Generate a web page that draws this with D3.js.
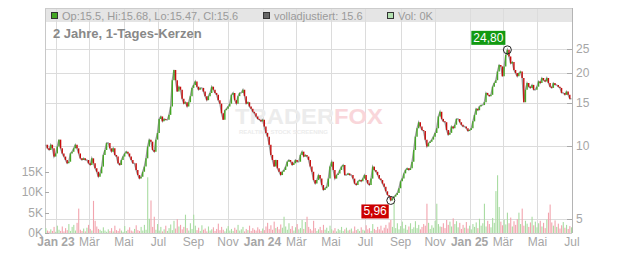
<!DOCTYPE html>
<html>
<head>
<meta charset="utf-8">
<script src="https://cdn.jsdelivr.net/npm/d3@7"></script>
<style>
  body { margin: 0; background: #fff; }
  svg { display: block; font-family: "Liberation Sans", Arial, sans-serif; }
</style>
</head>
<body>
<svg id="chart" width="632" height="253"></svg>
<script>
// Closing prices, sampled roughly every three calendar days (Dec 2022 - Jun 2025)
const closeSeg1 = [10.1, 9.76, 9.61, 10.1, 9.76, 9.03, 9.3, 9.94, 10.6, 9.76,
  9.3, 9.03, 8.74, 8.47, 8.6, 9.3, 9.46, 9.76, 10.1, 9.76,
  9.3, 8.88, 8.74, 8.88, 8.74, 8.74, 8.47, 8.34, 8.88, 8.47,
  8.08, 7.82, 7.46, 7.7, 8.21, 9.17, 9.61, 10.26, 10.26, 9.76,
  9.46, 9.76, 9.17, 9.03, 8.47, 8.34, 8.74, 9.03, 9.3, 9.46,
  9.3, 9.03, 8.74, 8.47, 8.47, 7.95, 7.58, 7.33, 7.46, 7.82,
  8.21, 8.88, 9.94, 10.6, 10.4, 9.61, 9.46, 10.6, 11.3, 12.9,
  13.2, 12.6, 12.9, 12.8, 12.8, 13.4, 14.5, 18.6, 20.5, 18.6,
  16.7, 17.5];
const closeSeg2 = [17.0, 15.6, 14.9, 15.1, 14.5, 15.1, 16.0, 17.3, 17.8, 18.4,
  17.5, 17.0, 17.3, 17.3, 16.7, 16.0, 15.4, 16.0, 16.5, 17.5,
  17.0, 16.5, 16.2, 15.4, 14.9, 13.6, 12.8, 14.0, 14.2, 14.5,
  14.9, 16.2, 16.5, 15.4, 14.9, 16.0, 16.5, 16.5, 17.0, 16.0,
  14.9, 15.1, 14.5, 14.2, 13.8, 13.6, 13.2, 12.9, 12.8, 12.6,
  12.8, 12.0, 11.3, 10.9, 10.1, 9.17, 8.74, 8.21, 8.74, 8.08,
  7.82, 7.58, 7.82, 7.95, 8.21, 8.6, 8.74, 8.6, 8.34, 8.47,
  8.74, 8.6, 8.6, 9.17, 9.46, 9.03, 9.17, 9.03, 8.74];
const closeSeg3 = [8.21, 7.82, 7.23, 6.99, 7.23, 7.58, 7.33, 6.9, 6.58, 6.69,
  6.79, 7.33, 8.21, 8.6, 7.95, 7.33, 7.58, 7.7, 7.95, 8.21,
  8.34, 7.58, 7.58, 7.7, 7.58, 7.58, 7.33, 6.99, 6.9, 7.14,
  7.23, 7.14, 7.33, 7.58, 7.23, 6.99, 6.9, 7.33, 8.21, 7.95,
  7.82, 7.58, 7.33, 7.23, 6.99, 6.79, 6.5, 6.28, 6.18, 5.96,
  6.08, 6.18, 6.28, 6.39, 6.69, 7.14, 7.33, 7.7, 7.95, 8.08,
  7.95, 8.08, 8.6, 9.61, 10.9, 11.8, 12.5, 12.0, 11.6, 11.5,
  10.6, 9.94, 10.26, 10.4, 10.6, 10.9, 11.3, 11.8, 13.2, 13.8];
const closeSeg4 = [12.9, 12.6, 12.5, 11.6, 11.1, 11.3, 12.0, 11.8, 12.2, 12.9,
  12.9, 12.5, 12.2, 12.0, 12.0, 11.8, 11.5, 11.6, 11.8, 12.6,
  13.4, 14.2, 14.0, 14.5, 14.7, 14.7, 15.1, 16.5, 16.2, 16.0,
  16.2, 17.5, 18.1, 18.6, 20.2, 21.5, 21.2, 19.3, 21.2, 23.6,
  24.8, 23.3, 21.8, 22.1, 20.5, 19.9, 19.3, 19.9, 20.2, 19.0,
  15.1, 17.0, 18.1, 17.5, 17.3, 17.8, 17.0, 17.0, 17.5, 18.4,
  18.1, 19.0, 18.6, 18.4, 19.0, 18.1, 17.5, 17.3, 18.1, 17.8,
  17.8, 17.5, 17.3, 16.5, 16.5, 16.2, 16.7, 16.2, 15.6, 15.6];

// Traded volume per sample, in thousands of shares
const volumeSeg1 = [1.2, 0.6, 0.4, 0.9, 0.5, 1.5, 0.3, 1.8, 0.8, 0.5,
  1.6, 0.4, 1.2, 0.7, 2.2, 0.5, 1.5, 2.0, 0.6, 2.5,
  6.0, 0.8, 0.5, 1.1, 0.4, 1.3, 2.0, 1.0, 0.6, 7.9,
  3.0, 1.6, 1.0, 0.8, 0.5, 1.4, 0.6, 0.3, 0.9, 0.5,
  1.2, 0.4, 1.8, 0.7, 0.5, 1.1, 0.6, 0.3, 1.7, 0.5,
  0.8, 1.4, 0.6, 0.4, 1.0, 1.9, 0.7, 0.5, 1.5, 0.6,
  2.0, 0.8, 13.7, 3.5, 8.0, 1.5, 4.0, 0.8, 2.2, 0.6,
  1.5, 0.4, 0.9, 1.8, 0.5, 1.2, 2.1, 0.7, 3.0, 1.1,
  3.4, 1.6];
const volumeSeg2 = [2.0, 0.9, 1.5, 4.5, 1.2, 0.6, 2.4, 1.0, 4.5, 1.8,
  0.7, 1.3, 0.5, 1.9, 0.8, 1.1, 0.4, 1.6, 0.6, 0.9,
  1.4, 0.5, 1.0, 2.3, 0.7, 1.5, 0.8, 0.4, 1.1, 1.7,
  0.6, 1.0, 0.5, 1.3, 0.8, 2.0, 0.6, 0.9, 1.5, 0.4,
  1.0, 0.7, 1.8, 0.5, 1.2, 0.8, 0.6, 1.4, 0.9, 0.5,
  1.1, 0.7, 1.6, 2.5, 1.0, 1.9, 0.8, 2.8, 1.2, 1.5,
  0.9, 2.1, 1.3, 4.0, 1.6, 0.8, 2.4, 1.0, 1.7, 0.6,
  1.4, 2.2, 0.9, 1.2, 3.2, 1.0, 2.7, 4.0, 1.5];
const volumeSeg3 = [1.0, 0.6, 3.0, 1.2, 0.5, 0.9, 1.5, 0.7, 2.0, 0.8,
  1.3, 0.5, 1.8, 0.9, 0.6, 1.2, 0.4, 1.0, 0.7, 1.5,
  0.5, 0.9, 1.3, 0.6, 0.8, 1.1, 0.4, 1.6, 0.7, 1.0,
  0.5, 1.4, 0.8, 0.6, 1.9, 0.9, 1.2, 0.5, 2.2, 1.0,
  0.7, 1.5, 0.9, 1.8, 0.6, 1.3, 2.0, 1.1, 2.6, 3.2,
  1.5, 7.5, 1.2, 2.4, 0.9, 1.7, 2.8, 1.1, 2.0, 0.8,
  1.6, 2.4, 1.0, 1.4, 2.9, 1.2, 2.0, 0.9, 1.5, 2.2,
  1.8, 7.2, 2.5, 1.0, 1.9, 1.3, 3.0, 7.2, 2.2, 1.6];
const volumeSeg4 = [1.5, 2.4, 1.2, 3.2, 2.0, 2.8, 1.6, 3.6, 2.2, 2.9,
  1.4, 2.5, 1.0, 2.0, 1.3, 2.7, 1.1, 1.8, 0.9, 2.2,
  1.5, 2.6, 1.2, 3.5, 1.8, 2.4, 7.2, 1.6, 3.0, 2.2,
  1.4, 3.7, 2.5, 10.3, 14.2, 6.4, 2.8, 1.9, 3.3, 2.1,
  5.0, 2.4, 3.8, 1.6, 2.9, 2.0, 3.4, 5.0, 2.2, 6.0,
  1.8, 3.0, 2.3, 1.5, 2.6, 4.0, 1.9, 2.8, 1.4, 2.4,
  3.0, 1.6, 2.5, 1.2, 3.3, 5.0, 7.0, 2.6, 1.8, 3.1,
  1.5, 2.3, 1.1, 1.9, 2.7, 1.3, 2.0, 1.0, 1.7, 1.4];

const firstDate = new Date(2022, 11, 14);
const lastDate = new Date(2025, 5, 30);

const priceTicks = [5, 10, 15, 20, 25];
const volumeTicks = [0, 5, 10, 15];
const monthTickDates = ["2023-01-01", "2023-03-01", "2023-05-01", "2023-07-01", "2023-09-01", "2023-11-01",
  "2024-01-01", "2024-03-01", "2024-05-01", "2024-07-01", "2024-09-01", "2024-11-01",
  "2025-01-01", "2025-03-01", "2025-05-01", "2025-07-01"];
const monthTickLabels = ["Jan 23", "Mär", "Mai", "Jul", "Sep", "Nov",
  "Jan 24", "Mär", "Mai", "Jul", "Sep", "Nov",
  "Jan 25", "Mär", "Mai", "Jul"];

const titleText = "2 Jahre, 1-Tages-Kerzen";
const legendTexts = ["Op:15.5, Hi:15.68, Lo:15.47, Cl:15.6", "volladjustiert: 15.6", "Vol: 0K"];

// ---- assemble series ----
const closes = [].concat(closeSeg1, closeSeg2, closeSeg3, closeSeg4);
const volumes = [].concat(volumeSeg1, volumeSeg2, volumeSeg3, volumeSeg4);
const n = closes.length;
const step = (lastDate - firstDate) / (n - 1);
const series = closes.map((c, i) => ({
  date: new Date(+firstDate + i * step),
  close: c,
  prev: i > 0 ? closes[i - 1] : c,
  volume: volumes[i]
}));

// ---- layout ----
const L = 45, R = 572, T = 8, B = 233;
const svg = d3.select("#chart");

const x = d3.scaleTime()
  .domain([new Date(2023, 0, 1), new Date(2025, 6, 1)])
  .range([56, 572]);
const y = d3.scaleLog().domain([5, 25]).range([219, 49]);
const v = d3.scaleLinear().domain([0, 15]).range([B, 172]);

const gridColor = "#dcdcdc";
const textColor = "#a6a6a6";
const up = "#44a624", down = "#c80c0c";

svg.append("defs").append("clipPath").attr("id", "plotClip")
  .append("rect").attr("x", L).attr("y", T + 14).attr("width", R - L).attr("height", B - T - 14);

// legend band
svg.append("rect").attr("x", L).attr("y", T).attr("width", R - L).attr("height", 14)
  .attr("fill", "#e5e5e5");

// vertical grid
const tickDates = monthTickDates.map(s => new Date(s + "T00:00:00"));
svg.append("g").selectAll("line").data(tickDates).join("line")
  .attr("x1", d => Math.round(x(d)) + 0.5).attr("x2", d => Math.round(x(d)) + 0.5)
  .attr("y1", T).attr("y2", B)
  .attr("stroke", gridColor).attr("stroke-width", 1);

// horizontal grid on price ticks
svg.append("g").selectAll("line").data(priceTicks).join("line")
  .attr("x1", L).attr("x2", R)
  .attr("y1", d => Math.round(y(d)) + 0.5).attr("y2", d => Math.round(y(d)) + 0.5)
  .attr("stroke", gridColor).attr("stroke-width", 1);

// frame
svg.append("line").attr("x1", L + 0.5).attr("x2", L + 0.5).attr("y1", T).attr("y2", B)
  .attr("stroke", "#c8c8c8");
svg.append("line").attr("x1", L).attr("x2", R).attr("y1", T + 0.5).attr("y2", T + 0.5)
  .attr("stroke", "#cccccc");
svg.append("line").attr("x1", R + 0.5).attr("x2", R + 0.5).attr("y1", T).attr("y2", B)
  .attr("stroke", "#b4b4b4");
svg.append("line").attr("x1", L).attr("x2", R).attr("y1", B + 0.5).attr("y2", B + 0.5)
  .attr("stroke", "#cccccc");

// watermark
const wm = svg.append("g");
const wmText = wm.append("text").attr("x", 235).attr("y", 124)
  .attr("font-size", 22).attr("font-weight", "bold")
  .attr("textLength", 148).attr("lengthAdjust", "spacingAndGlyphs");
wmText.append("tspan").attr("fill", "#ececec").text("TRADER");
wmText.append("tspan").attr("fill", "#f9d6da").text("FOX");
wm.append("text").attr("x", 239).attr("y", 134).attr("font-size", 6).attr("font-weight", "bold")
  .attr("fill", "#ececec").attr("textLength", 89).attr("lengthAdjust", "spacing")
  .text("REALTIME STOCK SCREENING");

// volume bars
svg.append("g").selectAll("rect").data(series).join("rect")
  .attr("x", d => x(d.date) - 0.5)
  .attr("width", 1.1)
  .attr("y", d => v(d.volume))
  .attr("height", d => B - v(d.volume))
  .attr("fill", d => d.close >= d.prev ? "#a9dca2" : "#f2a4ae");

// price line and candles
const plot = svg.append("g").attr("clip-path", "url(#plotClip)");
plot.append("path").datum(series)
  .attr("d", d3.line().x(d => x(d.date)).y(d => y(d.close)))
  .attr("fill", "none").attr("stroke", "#9a9a9a").attr("stroke-width", 1.4);
plot.append("g").selectAll("line").data(series.slice(1)).join("line")
  .attr("x1", d => x(d.date)).attr("x2", d => x(d.date))
  .attr("y1", d => y(d.prev)).attr("y2", d => y(d.close))
  .attr("stroke", d => d.close >= d.prev ? up : down)
  .attr("stroke-width", 1.4);

// right price axis
svg.append("g").selectAll("line").data(priceTicks).join("line")
  .attr("x1", R - 5).attr("x2", R)
  .attr("y1", d => Math.round(y(d)) + 0.5).attr("y2", d => Math.round(y(d)) + 0.5)
  .attr("stroke", "#aaa");
svg.append("g").selectAll("text").data(priceTicks).join("text")
  .attr("x", R + 4).attr("y", d => y(d)).attr("dy", "0.35em")
  .attr("font-size", 12).attr("fill", textColor).text(d => d);

// left volume axis
svg.append("g").selectAll("line").data(volumeTicks).join("line")
  .attr("x1", L).attr("x2", L + 4)
  .attr("y1", d => Math.round(v(d)) + 0.5).attr("y2", d => Math.round(v(d)) + 0.5)
  .attr("stroke", "#aaa");
svg.append("g").selectAll("text").data(volumeTicks).join("text")
  .attr("x", L - 2).attr("y", d => v(d)).attr("dy", "0.32em")
  .attr("text-anchor", "end").attr("font-size", 12).attr("fill", textColor)
  .text(d => d + "K");

// bottom month axis
svg.append("g").selectAll("text").data(tickDates).join("text")
  .attr("x", d => x(d)).attr("y", 246)
  .attr("text-anchor", "middle").attr("font-size", 12).attr("fill", textColor)
  .attr("font-weight", (d, i) => monthTickLabels[i].startsWith("Jan") ? "bold" : "normal")
  .text((d, i) => monthTickLabels[i]);

// title and legend
svg.append("text").attr("x", 53).attr("y", 38).attr("font-size", 13).attr("font-weight", "bold")
  .attr("fill", "#888").text(titleText);
const legendX = [51, 263, 387];
const legendFill = [up, "#666666", "#b3e0b0"];
legendTexts.forEach((t, i) => {
  svg.append("rect").attr("x", legendX[i] + 0.5).attr("y", 12.5).attr("width", 6).attr("height", 6)
    .attr("fill", legendFill[i]).attr("stroke", "#333");
  svg.append("text").attr("x", legendX[i] + 11).attr("y", 19.5).attr("font-size", 11)
    .attr("fill", "#9a9a9a").text(t);
});

// high / low badges
const hi = series.reduce((a, b) => b.close > a.close ? b : a);
const lo = series.reduce((a, b) => b.close < a.close ? b : a);
const fmt = d => d.toFixed(2).replace(".", ",");

function badge(pt, fill, placeAbove) {
  const px = x(pt.date), py = y(pt.close);
  const label = fmt(pt.close);
  const g = svg.append("g");
  const txt = g.append("text").attr("font-size", 12).attr("fill", "#fff").text(label);
  const w = txt.node().getComputedTextLength() + 4, h = 14;
  const bx = px - 2 - w, by = placeAbove ? py - 5 - h : py + 4;
  g.insert("rect", "text").attr("x", bx).attr("y", by).attr("width", w).attr("height", h).attr("fill", fill);
  txt.attr("x", bx + 2).attr("y", by + 11);
  svg.append("circle").attr("cx", px).attr("cy", py).attr("r", 4)
    .attr("fill", "none").attr("stroke", "#222").attr("stroke-width", 1);
}
badge(hi, "#129a12", true);
badge(lo, "#cc0000", false);
</script>
</body>
</html>
